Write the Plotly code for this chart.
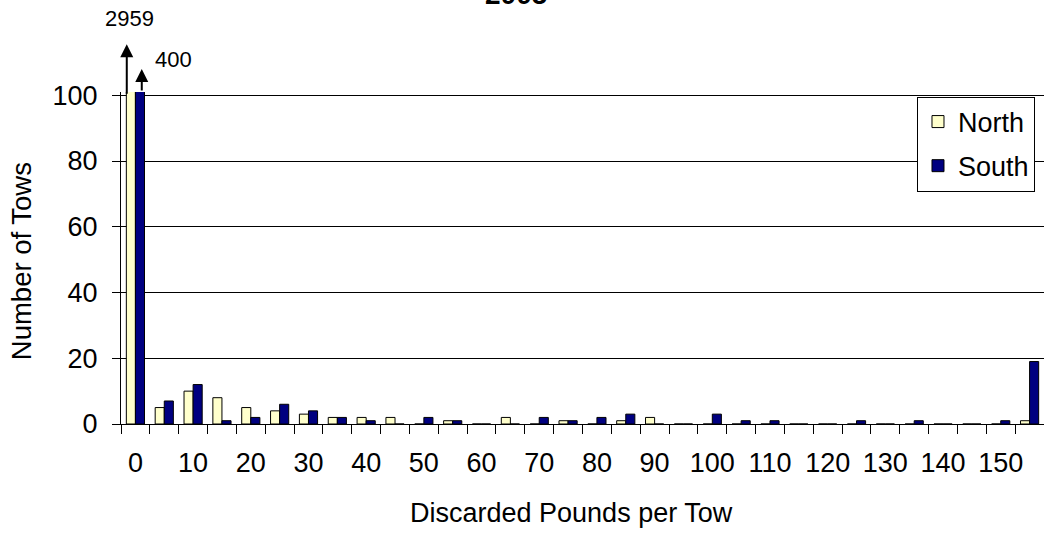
import plotly.graph_objects as go

# ---- data ----
categories = [0, 5, 10, 15, 20, 25, 30, 35, 40, 45, 50, 55, 60, 65, 70, 75,
              80, 85, 90, 95, 100, 105, 110, 115, 120, 125, 130, 135, 140, 145, 150, 155]
north = [2959, 5, 10, 8, 5, 4, 3, 2, 2, 2, 0, 1, 0, 2, 0, 1,
         0, 1, 2, 0, 0, 0, 0, 0, 0, 0, 0, 0, 0, 0, 0, 1]
south = [400, 7, 12, 1, 2, 6, 4, 2, 1, 0, 2, 1, 0, 0, 2, 1,
         2, 3, 0, 0, 3, 1, 1, 0, 0, 1, 0, 1, 0, 0, 1, 19]
tick_vals = [0, 10, 20, 30, 40, 50, 60, 70, 80, 90, 100, 110, 120, 130, 140, 150]
tick_text = [str(v) for v in tick_vals]
y_ticks = [0, 20, 40, 60, 80, 100]
off_scale_north = "2959"
off_scale_south = "400"
title_text = "2005"
x_title = "Discarded Pounds per Tow"
y_title = "Number of Tows"

FONT = "Liberation Sans, Arial, sans-serif"

fig = go.Figure()
fig.add_trace(go.Bar(x=categories, y=north, name="North", legendgroup="n",
                     marker=dict(color="#FFFFCC", line=dict(color="black", width=1))))
fig.add_trace(go.Bar(x=categories, y=south, name="South", legendgroup="s",
                     marker=dict(color="#000080", line=dict(color="black", width=1))))

fig.update_layout(
    width=1044, height=536,
    margin=dict(l=121, r=0, t=92, b=112),
    paper_bgcolor="white", plot_bgcolor="white",
    barmode="group", bargap=0.37, bargroupgap=0,
    font=dict(family=FONT, size=27, color="black"),
    showlegend=True,
    legend=dict(x=0.8624, y=0.9864, xanchor="left", yanchor="top",
                bgcolor="white", bordercolor="black", borderwidth=1,
                font=dict(size=27), tracegroupgap=6, traceorder="grouped"),
)

fig.update_xaxes(
    range=[-2.5, 157.5], tickmode="array", tickvals=tick_vals, ticktext=tick_text,
    ticks="outside", ticklen=15, tickcolor="rgba(0,0,0,0)",
    showline=True, linecolor="black", linewidth=1, showgrid=False, zeroline=False,
    minor=dict(ticks="outside", tick0=-2.5, dtick=5, ticklen=9, tickcolor="black",
               tickwidth=1, showgrid=False),
)
fig.update_yaxes(
    range=[0, 101], tickmode="array", tickvals=y_ticks,
    ticks="outside", ticklen=8, tickcolor="black", ticklabelstandoff=9,
    showline=True, linecolor="black", linewidth=1,
    showgrid=True, gridcolor="black", gridwidth=1, zeroline=False,
)

# axis titles
fig.add_annotation(x=0.4886, y=-0.268, xref="paper", yref="paper",
                   xanchor="center", yanchor="middle", text=x_title,
                   showarrow=False, font=dict(size=27))
fig.add_annotation(x=-0.107, y=0.491, xref="paper", yref="paper",
                   xanchor="center", yanchor="middle", text=y_title, textangle=-90,
                   showarrow=False, font=dict(size=27.5))

# off-scale arrows
fig.add_annotation(x=-1.5, y=115.5, ax=-1.5, ay=100, xref="x", yref="y",
                   axref="x", ayref="y", text="", showarrow=True,
                   arrowhead=2, arrowsize=1.3, arrowwidth=2, arrowcolor="black")
fig.add_annotation(x=1.1, y=108, ax=1.1, ay=101, xref="x", yref="y",
                   axref="x", ayref="y", text="", showarrow=True,
                   arrowhead=2, arrowsize=1.3, arrowwidth=2, arrowcolor="black")
fig.add_annotation(x=0.0087, y=1.2214, xref="paper", yref="paper",
                   xanchor="center", yanchor="middle", text=off_scale_north,
                   showarrow=False, font=dict(size=22))
fig.add_annotation(x=0.0574, y=1.0964, xref="paper", yref="paper",
                   xanchor="center", yanchor="middle", text=off_scale_south,
                   showarrow=False, font=dict(size=22))
# partially visible title at top (cropped in the reference)
fig.add_annotation(x=0.428, y=1.2418, xref="paper", yref="paper",
                   xanchor="center", yanchor="bottom",
                   text="<b>" + title_text + "</b>", showarrow=False, font=dict(size=28))

fig.write_html("out.html", config={"displayModeBar": False},
               post_script="document.body.style.margin='0';")
